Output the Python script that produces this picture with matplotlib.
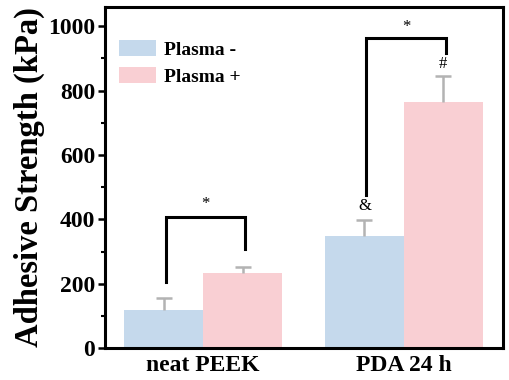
import numpy as np
import matplotlib.pyplot as plt
from matplotlib.ticker import MultipleLocator

plt.rcParams['font.family'] = ['Liberation Serif', 'DejaVu Serif']
plt.rcParams['font.weight'] = 'bold'

# data
groups = ['neat PEEK', 'PDA 24 h']
series = ['Plasma -', 'Plasma +']
plasma_minus = [118, 348]
plasma_minus_err = [37, 50]
plasma_plus = [234, 765]
plasma_plus_err = [19, 81]

colors = ['#c5d9ec', '#f9cfd3']
err_color = '#b3b3b3'
x = np.arange(len(groups))
w = 0.393

fig = plt.figure(figsize=(5.1, 3.8), dpi=100)
ax = fig.add_axes([0.206, 0.084, 0.78, 0.898])

for offset, vals, errs, col, lab in [(-w / 2, plasma_minus, plasma_minus_err, colors[0], series[0]),
                                    (w / 2, plasma_plus, plasma_plus_err, colors[1], series[1])]:
    xs = x + offset
    vals = np.array(vals)
    errs = np.array(errs)
    ax.bar(xs, vals, w, color=col, label=lab)
    # one-sided error bars (upper only)
    ax.vlines(xs, vals, vals + errs, color=err_color, lw=1.8)
    ax.plot(xs, vals + errs, ls='none', marker='_', ms=11, mew=1.8, color=err_color)

# significance brackets
def bracket(x0, x1, y0, y1, ytop, text_y):
    ax.plot([x0, x0, x1, x1], [y0, ytop, ytop, y1], color='black', lw=2.2,
            solid_joinstyle='miter')
    ax.text((x0 + x1) / 2, text_y, '*', ha='center', va='center',
            fontsize=12, fontweight='normal')

bracket(-0.184, 0.209, 205, 308, 407, 448)
bracket(-0.188 + 1, 0.21 + 1, 476, 918, 964, 997)
ax.text(1 - w / 2, 440, '&', ha='center', va='center', fontsize=12, fontweight='normal')
ax.text(1 + w / 2, 882, '#', ha='center', va='center', fontsize=12, fontweight='normal')

ax.set_xlim(-0.488, 1.493)
ax.set_ylim(0, 1060)
ax.set_xticks(x)
ax.set_xticklabels(groups, fontsize=17, fontweight='bold')
ax.tick_params(axis='x', length=0, pad=5)
ax.yaxis.set_major_locator(MultipleLocator(200))
ax.yaxis.set_minor_locator(MultipleLocator(100))
ax.tick_params(axis='y', which='major', direction='out', length=5, width=1.8, labelsize=17, pad=2)
ax.tick_params(axis='y', which='minor', direction='out', length=3, width=1.5)
for lab in ax.get_yticklabels():
    lab.set_fontweight('bold')
ax.set_ylabel('Adhesive Strength (kPa)', fontsize=23.5, fontweight='bold', labelpad=2)

for s in ax.spines.values():
    s.set_linewidth(2.2)

ax.legend(loc='upper left', bbox_to_anchor=(0.015, 0.926), frameon=False,
          prop=dict(size=14, weight='bold'), handlelength=1.9, handleheight=0.9,
          labelspacing=0.42, handletextpad=0.45, borderaxespad=0)

fig.savefig('out.png', dpi=100)
